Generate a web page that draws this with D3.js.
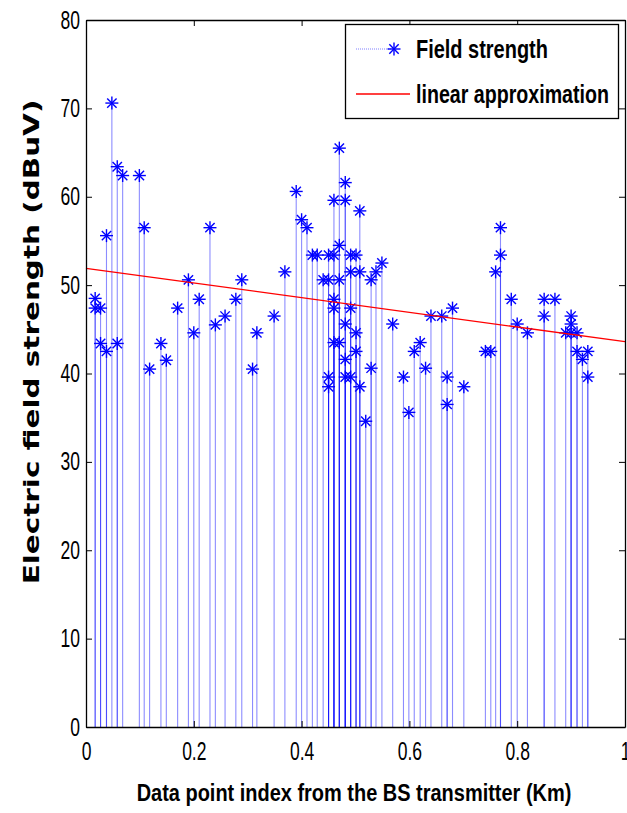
<!DOCTYPE html>
<html>
<head>
<meta charset="utf-8">
<script src="https://cdn.jsdelivr.net/npm/d3@7"></script>
<style>
  body { margin: 0; background: #fff; }
  svg { display: block; }
</style>
</head>
<body>
<div id="plot"></div>
<script>
// distance from BS (Km) and measured field strength (dBuV)
const distKm = [
  0.017, 0.017, 0.027, 0.027, 0.038, 0.038, 0.048, 0.058, 0.058, 0.068,
  0.099, 0.108, 0.118, 0.139, 0.149, 0.170, 0.190, 0.200, 0.210, 0.230,
  0.240, 0.258, 0.278, 0.289, 0.309, 0.317, 0.349, 0.369, 0.390, 0.400,
  0.410, 0.420, 0.429, 0.440, 0.450, 0.450, 0.450, 0.450, 0.460, 0.460,
  0.460, 0.460, 0.460, 0.470, 0.470, 0.470, 0.470, 0.481, 0.481, 0.481,
  0.481, 0.481, 0.491, 0.491, 0.491, 0.491, 0.501, 0.501, 0.501, 0.508,
  0.508, 0.508, 0.519, 0.529, 0.529, 0.538, 0.549, 0.569, 0.589, 0.599,
  0.609, 0.620, 0.630, 0.640, 0.660, 0.670, 0.670, 0.680, 0.701, 0.741,
  0.751, 0.760, 0.769, 0.769, 0.789, 0.800, 0.819, 0.850, 0.850, 0.870,
  0.890, 0.900, 0.900, 0.900, 0.911, 0.911, 0.921, 0.931, 0.931
];
const fieldDb = [
  48.5, 47.4, 47.4, 43.4, 55.6, 42.5, 70.6, 63.4, 43.4, 62.4,
  62.4, 56.5, 40.5, 43.4, 41.5, 47.4, 50.6, 44.6, 48.4, 56.5,
  45.5, 46.5, 48.4, 50.6, 40.5, 44.6, 46.5, 51.5, 60.6, 57.4,
  56.5, 53.4, 53.4, 50.6, 50.6, 53.4, 39.6, 38.5, 59.6, 53.4,
  48.4, 47.4, 43.5, 65.5, 54.5, 50.6, 43.5, 61.6, 59.6, 45.6,
  41.6, 39.6, 53.4, 51.5, 47.4, 39.6, 53.4, 44.6, 42.5, 58.4,
  51.5, 38.5, 34.6, 50.6, 40.6, 51.5, 52.5, 45.6, 39.6, 35.6,
  42.5, 43.5, 40.6, 46.5, 46.5, 39.6, 36.5, 47.4, 38.5, 42.5,
  42.5, 51.5, 56.5, 53.4, 48.4, 45.6, 44.6, 48.4, 46.5, 48.4,
  44.6, 46.5, 45.6, 44.6, 44.6, 42.5, 41.6, 42.5, 39.6
];

// linear approximation end points
const fitX = [0, 1];
const fitY = [51.9, 43.6];

const xTicks = [0, 0.2, 0.4, 0.6, 0.8, 1];
const yTicks = [0, 10, 20, 30, 40, 50, 60, 70, 80];

const legendLabels = ["Field strength", "linear approximation"];

var dimension = {
    width: 627,
    height: 813,
    margin: { top: 20, left: 86, bottom: 86, right: 2 }
};
dimension.boundedWidth = dimension.width - dimension.margin.left - dimension.margin.right;
dimension.boundedHeight = dimension.height - dimension.margin.top - dimension.margin.bottom;

const svg = d3.select("#plot").append("svg")
    .attr("width", dimension.width)
    .attr("height", dimension.height);

const bounded = svg.append("g")
    .attr("transform", `translate(${dimension.margin.left},${dimension.margin.top})`);

// scalers
const xScaler = d3.scaleLinear().domain([0, 1]).range([0, dimension.boundedWidth]);
const yScaler = d3.scaleLinear().domain([0, 80]).range([dimension.boundedHeight, 0]);

// squeeze text horizontally (matlab export looks condensed)
function squeeze(sel, f) {
    sel.each(function() {
        const w = this.getComputedTextLength();
        d3.select(this).attr("textLength", w * f).attr("lengthAdjust", "spacingAndGlyphs");
    });
}

// text placed in a group and scaled in x to hit a target width
function fitText(parent, x, y, anchor, rotate, str, font, size, targetW) {
    const g = parent.append("g").attr("transform", `translate(${x},${y})` + (rotate ? ` rotate(${rotate})` : ""));
    const t = g.append("text")
        .attr("text-anchor", anchor)
        .attr("dy", "0.35em")
        .attr("font-family", font)
        .attr("font-weight", "bold")
        .attr("font-size", size)
        .text(str);
    const w = t.node().getComputedTextLength();
    t.attr("transform", `scale(${targetW / w},1)`);
    return t;
}

const tickFont = "'Liberation Sans', Arial, sans-serif";

// stems
const points = distKm.map((d, i) => ({ x: d, y: fieldDb[i] }));
bounded.append("g").selectAll("line")
    .data(points)
    .join("line")
    .attr("x1", d => xScaler(d.x))
    .attr("x2", d => xScaler(d.x))
    .attr("y1", yScaler(0))
    .attr("y2", d => yScaler(d.y))
    .attr("stroke", "#0000ff")
    .attr("stroke-opacity", 0.45)
    .attr("stroke-width", 1.1);

// asterisk markers
function star(g, r) {
    const rd = r * 0.72;
    g.append("line").attr("x1", -r).attr("x2", r).attr("y1", 0).attr("y2", 0);
    g.append("line").attr("x1", 0).attr("x2", 0).attr("y1", -r).attr("y2", r);
    g.append("line").attr("x1", -rd).attr("x2", rd).attr("y1", -rd).attr("y2", rd);
    g.append("line").attr("x1", -rd).attr("x2", rd).attr("y1", rd).attr("y2", -rd);
}
bounded.append("g").selectAll("g")
    .data(points)
    .join("g")
    .attr("transform", d => `translate(${xScaler(d.x)},${yScaler(d.y)})`)
    .attr("stroke", "#0000ff")
    .attr("stroke-width", 1.4)
    .each(function() { star(d3.select(this), 6.5); });

// fitted line
const lineGen = d3.line().x(d => xScaler(d[0])).y(d => yScaler(d[1]));
bounded.append("path")
    .datum(fitX.map((d, i) => [d, fitY[i]]))
    .attr("d", lineGen)
    .attr("fill", "none")
    .attr("stroke", "#ff0000")
    .attr("stroke-width", 1.3);

// axes (inward ticks on all four sides)
const xAxis = bounded.append("g")
    .attr("transform", `translate(0,${dimension.boundedHeight})`)
    .call(d3.axisBottom(xScaler).tickValues(xTicks).tickFormat(d3.format("")).tickSize(-6).tickSizeOuter(0).tickPadding(15));
const yAxis = bounded.append("g")
    .call(d3.axisLeft(yScaler).tickValues(yTicks).tickSize(-6).tickSizeOuter(0).tickPadding(6));
bounded.append("g")
    .call(d3.axisTop(xScaler).tickValues(xTicks).tickFormat("").tickSize(-6).tickSizeOuter(0));
bounded.append("g")
    .attr("transform", `translate(${dimension.boundedWidth},0)`)
    .call(d3.axisRight(yScaler).tickValues(yTicks).tickFormat("").tickSize(-6).tickSizeOuter(0));

bounded.selectAll(".domain").attr("stroke", "#000").attr("stroke-width", 1.3);
bounded.selectAll(".tick line").attr("stroke", "#000");
bounded.selectAll(".tick text")
    .attr("font-family", tickFont)
    .attr("font-size", 25)
    .attr("fill", "#000");
squeeze(xAxis.selectAll(".tick text"), 0.7);
squeeze(yAxis.selectAll(".tick text"), 0.7);

// axis titles
fitText(svg, 354, 793, "middle", 0, "Data point index from the BS transmitter (Km)", tickFont, 24, 435);
fitText(svg, 32, 342, "middle", -90, "Electric field strength (dBuV)", "'DejaVu Sans', Verdana, sans-serif", 21, 485);

// legend
const legend = svg.append("g");
legend.append("rect")
    .attr("x", 345.5).attr("y", 24.5)
    .attr("width", 273).attr("height", 94)
    .attr("fill", "#fff")
    .attr("stroke", "#000")
    .attr("stroke-width", 1.3);

const rowY = [49, 94];
legend.append("line")
    .attr("x1", 356).attr("x2", 394)
    .attr("y1", rowY[0]).attr("y2", rowY[0])
    .attr("stroke", "#0000ff").attr("stroke-opacity", 0.5).attr("stroke-dasharray", "1,1");
const legStar = legend.append("g")
    .attr("transform", `translate(394,${rowY[0]})`)
    .attr("stroke", "#0000ff").attr("stroke-width", 1.4);
star(legStar, 6.5);
legend.append("line")
    .attr("x1", 356).attr("x2", 410)
    .attr("y1", rowY[1]).attr("y2", rowY[1])
    .attr("stroke", "#ff0000").attr("stroke-width", 1.3);

const legWidths = [132, 193];
legendLabels.forEach((d, i) => {
    fitText(legend, 416, rowY[i], "start", 0, d, tickFont, 25, legWidths[i]);
});
</script>
</body>
</html>
